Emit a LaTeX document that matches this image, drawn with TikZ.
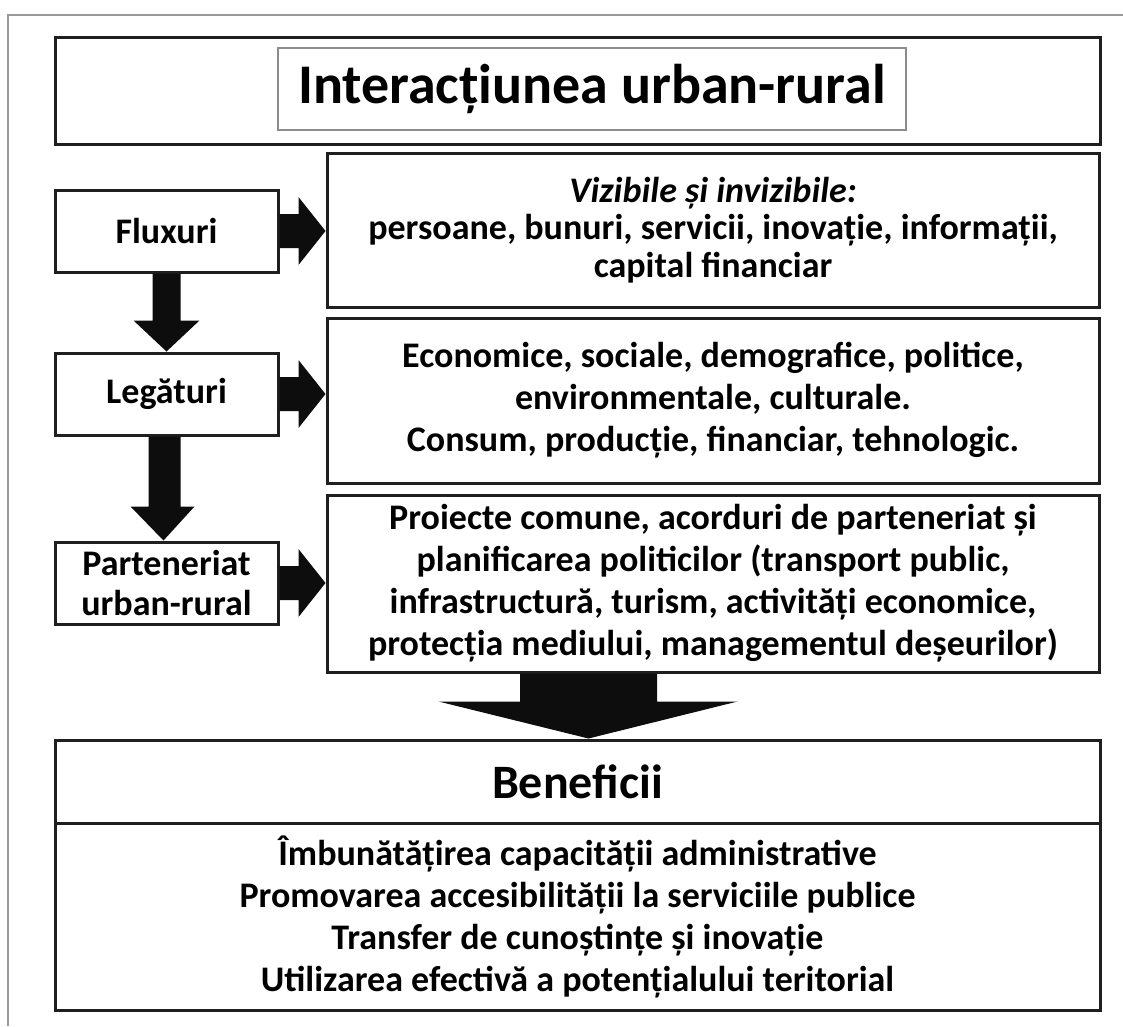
\documentclass[tikz,border=0pt]{standalone}
\usepackage{fontspec}
\setmainfont{Carlito}
\usetikzlibrary{calc}
\begin{document}
\begin{tikzpicture}[x=1pt,y=-1pt,
  box/.style={draw=black!88, line width=3pt, inner sep=0pt, align=center, fill=white},
  bt/.style={font=\bfseries\fontsize{36}{42}\selectfont},
  btn/.style={font=\bfseries\fontsize{36}{37.5}\selectfont},
  blk/.style={fill=black!95}]
\useasboundingbox (0,0) rectangle (1123,1026);
% outer gray frame
\draw[black!40, line width=2.2pt] (8,1026) -- (8,15) -- (1123,15);

% title
\node[box, minimum width=1045, minimum height=107] (title) at (577.5,90.5) {};
\node[draw=black!45, line width=2pt, fill=white, inner sep=0pt, minimum width=628, minimum height=82,
      font=\bfseries\fontsize{56}{60}\selectfont] (titlein) at (592,89) {Interacțiunea urban-rural};

% left column
\node[box, bt, minimum width=223, minimum height=82] (fl) at (166.5,231) {Fluxuri};
\node[box, bt, minimum width=223, minimum height=82] (leg) at (166.5,394) {Legături};
\node[box, bt, minimum width=223, minimum height=82, font=\bfseries\fontsize{36}{40}\selectfont] (part) at (166.5,583) {Parteneriat\\urban-rural};

% right column
\node[box, btn, minimum width=772, minimum height=154] (vis) at (713,230)
  {\textit{Vizibile și invizibile:}\\persoane, bunuri, servicii, inovație, informații,\\capital financiar};
\node[box, bt, minimum width=772, minimum height=165] (lnk) at (713,400.5)
  {Economice, sociale, demografice, politice,\\environmentale, culturale.\\Consum, producție, financiar, tehnologic.};
\node[box, bt, minimum width=772, minimum height=177] (prj) at (713,583.5)
  {Proiecte comune, acorduri de parteneriat și\\planificarea politicilor (transport public,\\infrastructură, turism, activități economice,\\protecția mediului, managementul deșeurilor)};

% benefits
\node[box, minimum width=1045, minimum height=83, font=\bfseries\fontsize{48}{54}\selectfont] (ben) at (577.5,781.5) {Beneficii};
\node[box, bt, minimum width=1045, minimum height=187] (benl) at (577.5,917)
  {Îmbunătățirea capacității administrative\\Promovarea accesibilității la serviciile publice\\Transfer de cunoștințe și inovație\\Utilizarea efectivă a potențialului teritorial};

% horizontal block arrows
\newcommand\harr[2]{%
  \fill[blk] let \p1=(#1.east), \p2=(#2.west) in
    (\x1,\y1+17pt) -- (\x2-27pt,\y1+17pt) -- (\x2-27pt,\y1+34pt) -- (\x2,\y1)
    -- (\x2-27pt,\y1-34pt) -- (\x2-27pt,\y1-17pt) -- (\x1,\y1-17pt) -- cycle;}
\harr{fl}{vis}
\harr{leg}{lnk}
\harr{part}{prj}

% vertical block arrows
\fill[blk] let \p1=(fl.south), \p2=(leg.north) in
  (\x1-14pt,\y1) -- (\x1-14pt,\y2+31pt) -- (\x1-33pt,\y2+31pt) -- (\x1,\y2)
  -- (\x1+33pt,\y2+31pt) -- (\x1+14pt,\y2+31pt) -- (\x1+14pt,\y1) -- cycle;
\fill[blk] let \p1=(leg.south), \p2=(part.north) in
  (\x1-18pt,\y1) -- (\x1-18pt,\y2+34pt) -- (\x1-36pt,\y2+34pt) -- (\x1-3pt,\y2)
  -- (\x1+28pt,\y2+34pt) -- (\x1+14pt,\y2+34pt) -- (\x1+14pt,\y1) -- cycle;

% big arrow to benefits
\coordinate (bigx) at (588.5,0);
\fill[blk] let \p1=(prj.south), \p2=(ben.north), \p3=(bigx) in
  (\x3-68.5pt,\y1) -- (\x3-68.5pt,\y2+37pt) -- (\x3-150pt,\y2+37pt) -- (\x3,\y2)
  -- (\x3+149pt,\y2+37pt) -- (\x3+68.5pt,\y2+37pt) -- (\x3+68.5pt,\y1) -- cycle;
\end{tikzpicture}
\end{document}
